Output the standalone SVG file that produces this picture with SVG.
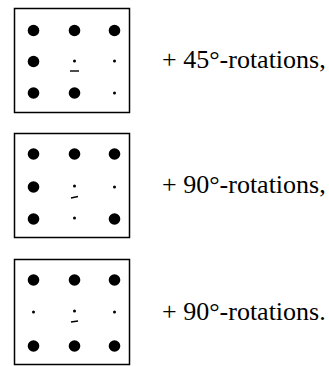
<svg xmlns="http://www.w3.org/2000/svg" width="329" height="366" viewBox="0 0 329 366">
<style>
.box{fill:none;stroke:#000;stroke-width:1.5}
.big{fill:#000}
.lbl{font-family:"Liberation Serif","Times New Roman",serif;font-size:26px;fill:#000}
.dash{stroke:#000;stroke-width:1.4;fill:none}
</style>
<rect width="329" height="366" fill="#fff"/>
<g id="pattern1">
<rect class="box" x="14.5" y="8.5" width="115" height="104"/>
<circle class="big" cx="33.5" cy="30.5" r="5.8"/>
<circle class="big" cx="74.5" cy="30.5" r="5.8"/>
<circle class="big" cx="114.5" cy="30.5" r="5.8"/>
<circle class="big" cx="33.5" cy="61.5" r="5.8"/>
<circle class="big" cx="74.5" cy="61" r="1.5"/>
<circle class="big" cx="114.5" cy="61" r="1.5"/>
<circle class="big" cx="33.5" cy="93" r="5.8"/>
<circle class="big" cx="74.5" cy="93" r="5.8"/>
<circle class="big" cx="114.5" cy="93" r="1.5"/>
<line class="dash" x1="70" y1="71" x2="79" y2="71"/>
<text class="lbl" x="162" y="68">+ 45°-rotations,</text>
</g>
<g id="pattern2">
<rect class="box" x="14.5" y="133.5" width="115" height="104"/>
<circle class="big" cx="33.5" cy="154" r="5.8"/>
<circle class="big" cx="74.5" cy="154" r="5.8"/>
<circle class="big" cx="114.5" cy="154" r="5.8"/>
<circle class="big" cx="33.5" cy="187" r="5.8"/>
<circle class="big" cx="74.5" cy="186" r="1.5"/>
<circle class="big" cx="114.5" cy="187" r="1.5"/>
<circle class="big" cx="33.5" cy="219" r="5.8"/>
<circle class="big" cx="74.5" cy="218" r="1.5"/>
<circle class="big" cx="114.5" cy="219" r="5.8"/>
<line class="dash" x1="71" y1="198" x2="78" y2="196.5"/>
<text class="lbl" x="162" y="193">+ 90°-rotations,</text>
</g>
<g id="pattern3">
<rect class="box" x="14.5" y="259.5" width="115" height="105"/>
<circle class="big" cx="33.5" cy="280" r="5.8"/>
<circle class="big" cx="74.5" cy="280" r="5.8"/>
<circle class="big" cx="114.5" cy="280" r="5.8"/>
<circle class="big" cx="33.5" cy="312" r="1.5"/>
<circle class="big" cx="74.5" cy="311" r="1.5"/>
<circle class="big" cx="114.5" cy="312" r="1.5"/>
<circle class="big" cx="33.5" cy="346" r="5.8"/>
<circle class="big" cx="74.5" cy="346" r="5.8"/>
<circle class="big" cx="114.5" cy="346" r="5.8"/>
<line class="dash" x1="71" y1="322" x2="78" y2="321"/>
<text class="lbl" x="162" y="320">+ 90°-rotations.</text>
</g>
</svg>
